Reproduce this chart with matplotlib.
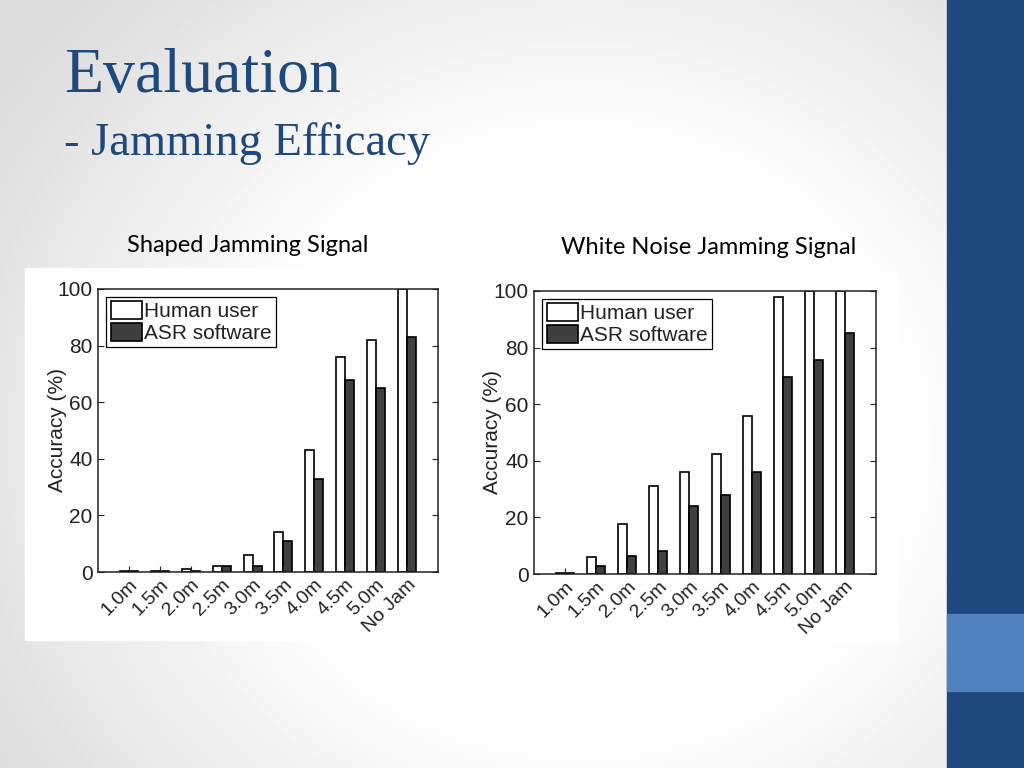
import numpy as np
import matplotlib.pyplot as plt
from matplotlib.patches import Rectangle

# Datos de las dos gráficas
distancias = ['1.0m', '1.5m', '2.0m', '2.5m', '3.0m', '3.5m', '4.0m', '4.5m', '5.0m', 'No Jam']

# Señal de interferencia con forma
humano_forma = [0.3, 0.3, 1, 2, 6, 14, 43, 76, 82, 100]
asr_forma = [0.3, 0.3, 0.3, 2, 2, 11, 33, 68, 65, 83]

# Señal de ruido blanco
humano_ruido = [0.3, 6, 17.5, 31, 36, 42.5, 56, 98, 100, 100]
asr_ruido = [0.3, 3, 6.5, 8, 24, 28, 36, 69.5, 75.5, 85]

azul_titulo = '#1F497D'
gris_barra = '#404040'
gris_texto = '#222222'

W, H = 1024, 768
fig = plt.figure(figsize=(W / 100, H / 100), dpi=100)


def caja(x0, y0, x1, y1):
    # convierte pixeles (desde arriba a la izquierda) a fracciones de la figura
    return [x0 / W, 1 - y1 / H, (x1 - x0) / W, (y1 - y0) / H]


# Fondo con viñeta gris
fondo = fig.add_axes([0, 0, 1, 1])
yy, xx = np.mgrid[0:H, 0:W]
r = np.hypot(xx - 580, (yy - 440) * 1.1)
brillo = 1 - 0.14 * np.clip((r - 320) / 380, 0, 1)
fondo.imshow(brillo, cmap='gray', vmin=0, vmax=1, extent=[0, W, H, 0], aspect='auto')
fondo.set_xlim(0, W)
fondo.set_ylim(H, 0)
fondo.axis('off')

# Barra lateral azul
fondo.add_patch(Rectangle((947, 0), W - 947, H, color='#1F497D', zorder=2))
fondo.add_patch(Rectangle((947, 614), W - 947, 77, color='#4F81BD', zorder=3))

# Recuadros blancos de las imágenes
fondo.add_patch(Rectangle((25, 268), 428, 372, color='white', zorder=2))
fondo.add_patch(Rectangle((478, 272), 420, 370, color='white', zorder=2))

# Títulos
fig.text(64 / W, 1 - 92 / H, 'Evaluation', fontsize=46, color=azul_titulo,
         family='Liberation Serif', va='baseline')
fig.text(64 / W, 1 - 155 / H, '- Jamming Efficacy', fontsize=33.5, color=azul_titulo,
         family='Liberation Serif', va='baseline')
fig.text(248 / W, 1 - 245 / H, 'Shaped Jamming Signal', fontsize=17, color='black',
         family='Lato', ha='center', va='center')
fig.text(709 / W, 1 - 248 / H, 'White Noise Jamming Signal', fontsize=17, color='black',
         family='Lato', ha='center', va='center')


def grafica(pos, humano, asr):
    ax = fig.add_axes(pos)
    x = np.arange(1, len(distancias) + 1)
    ancho = 0.29
    ax.bar(x - ancho / 2, humano, ancho, color='white', edgecolor='black', linewidth=1.2,
           label='Human user')
    ax.bar(x + ancho / 2, asr, ancho, color=gris_barra, edgecolor='black', linewidth=1.2,
           label='ASR software')
    ax.set_xlim(0, 11)
    ax.set_ylim(0, 100)
    ax.set_yticks([0, 20, 40, 60, 80, 100])
    ax.set_xticks(x)
    ax.set_xticklabels(distancias, rotation=45, ha='right', rotation_mode='anchor',
                       family='Liberation Sans', fontsize=14, color=gris_texto)
    for t in ax.get_yticklabels():
        t.set_family('Liberation Sans')
        t.set_fontsize(15)
        t.set_color(gris_texto)
    ax.tick_params(direction='in', top=True, right=True, length=4, width=0.8,
                   colors=gris_texto, pad=4)
    ax.tick_params(axis='x', top=False, pad=3)
    ax.set_ylabel('Accuracy (%)', family='Liberation Sans', fontsize=15, color=gris_texto,
                  va='center')
    ax.yaxis.set_label_coords(-0.12, 0.5)
    for s in ax.spines.values():
        s.set_color(gris_texto)
        s.set_linewidth(1.1)
    ley = ax.legend(loc='upper left', prop={'family': 'Liberation Sans', 'size': 15},
                    handlelength=1.5, handleheight=0.9, handletextpad=0.1,
                    labelspacing=0.1, borderpad=0.2, borderaxespad=0.4,
                    fancybox=False, edgecolor='black', framealpha=1)
    ley.get_frame().set_linewidth(0.9)
    for t in ley.get_texts():
        t.set_color(gris_texto)
    ax.set_zorder(5)
    return ax


grafica(caja(98, 289, 438, 572), humano_forma, asr_forma)
grafica(caja(534, 291, 876, 574), humano_ruido, asr_ruido)

fig.savefig('out.png', dpi=100)
